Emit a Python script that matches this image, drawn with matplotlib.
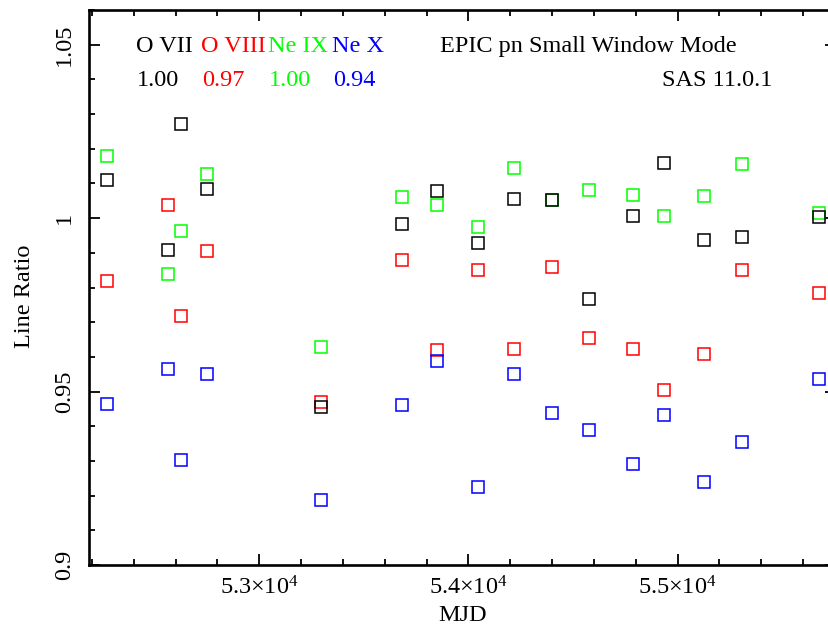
import matplotlib
matplotlib.use("Agg")
import matplotlib.pyplot as plt
from matplotlib.ticker import MultipleLocator, FixedLocator, FuncFormatter

plt.rcParams['font.family'] = ['Liberation Serif', 'DejaVu Serif']
plt.rcParams['mathtext.fontset'] = 'custom'
plt.rcParams['mathtext.rm'] = 'Liberation Serif'
plt.rcParams['mathtext.it'] = 'Liberation Serif:italic'

# ---- data ----
mjd = [52270, 52562, 52624, 52750, 53293, 53681, 53848, 54045,
       54216, 54401, 54576, 54785, 54935, 55126, 55307, 55674]
o7 = [1.0109, 0.9909, 1.0270, 1.0083, 0.9456, 0.9982, 1.0077, 0.9929,
      1.0054, 1.0051, 0.9768, 1.0007, 1.0158, 0.9938, 0.9945, 1.0003]
o8 = [0.9819, 1.0037, 0.9717, 0.9905, 0.9470, 0.9880, 0.9621, 0.9851,
      0.9622, 0.9859, 0.9653, 0.9622, 0.9504, 0.9607, 0.9851, 0.9785]
ne9 = [1.0178, 0.9838, 0.9963, 1.0128, 0.9629, 1.0062, 1.0039, 0.9974,
       1.0144, 1.0051, 1.0081, 1.0068, 1.0006, 1.0065, 1.0157, 1.0016]
ne10 = [0.9463, 0.9564, 0.9303, 0.9550, 0.9187, 0.9460, 0.9588, 0.9226,
        0.9550, 0.9439, 0.9389, 0.9292, 0.9433, 0.9238, 0.9356, 0.9536]

series_names = ["O VII", "O VIII", "Ne IX", "Ne X"]
series_means = ["1.00", "0.97", "1.00", "0.94"]
series_colors = ["#000000", "#ff0000", "#00ff00", "#0000ff"]
yticks_major = [0.9, 0.95, 1.0, 1.05]
xticks_major = [53000, 54000, 55000]

fig = plt.figure(figsize=(8.29, 6.26), dpi=100)
ax = fig.add_axes([89/829, 61/626, 747/829, 555/626])

draw_order = [(ne9, 2), (o8, 1), (ne10, 3), (o7, 0)]
for vals, ci in draw_order:
    ax.plot(mjd, vals, linestyle='none', marker='s', ms=9.2,
            mfc='none', mec=series_colors[ci], mew=1.1)

ax.set_xlim(52186, 55757)
ax.set_ylim(0.9, 1.06)

ax.xaxis.set_major_locator(FixedLocator(xticks_major))
ax.xaxis.set_minor_locator(MultipleLocator(200))
ax.yaxis.set_major_locator(FixedLocator(yticks_major))
ax.yaxis.set_minor_locator(MultipleLocator(0.01))

def xfmt(v, pos):
    return r'$%.1f{\times}10^{4}$' % (v / 1e4)

ax.xaxis.set_major_formatter(FuncFormatter(xfmt))
ax.yaxis.set_major_formatter(FuncFormatter(lambda v, p: '%g' % v))

ax.tick_params(which='both', direction='in', top=True, right=True,
               labelsize=17.5, width=1.3)
ax.tick_params(which='major', length=8)
ax.tick_params(which='minor', length=4)
ax.tick_params(axis='x', pad=8)
ax.tick_params(axis='y', pad=10)
for lab in ax.get_yticklabels():
    lab.set_rotation(90)
    lab.set_va('center')
    lab.set_ha('right')

for s in ax.spines.values():
    s.set_linewidth(1.9)

ax.set_xlabel('MJD', fontsize=17.5, labelpad=4)
ax.set_ylabel('Line Ratio', fontsize=17.5)
ax.yaxis.set_label_coords(-0.072, 0.484)

# annotations (axes fraction)
name_x = [136, 201, 268, 332.5]
for nm, mv, c, px in zip(series_names, series_means, series_colors, name_x):
    ax.text((px - 89) / 747, (565 - 52.3) / 555, nm, color=c, fontsize=17.5,
            transform=ax.transAxes, ha='left', va='baseline')
    ax.text((px + 1 - 89) / 747, (565 - 86) / 555, mv, color=c, fontsize=17.5,
            transform=ax.transAxes, ha='left', va='baseline')

ax.text((440 - 89) / 747, (565 - 52.3) / 555, 'EPIC pn Small Window Mode',
        fontsize=17.5, transform=ax.transAxes, ha='left', va='baseline')
ax.text((662 - 89) / 747, (565 - 86) / 555, 'SAS 11.0.1',
        fontsize=17.5, transform=ax.transAxes, ha='left', va='baseline')

fig.savefig('out.png', dpi=100)
